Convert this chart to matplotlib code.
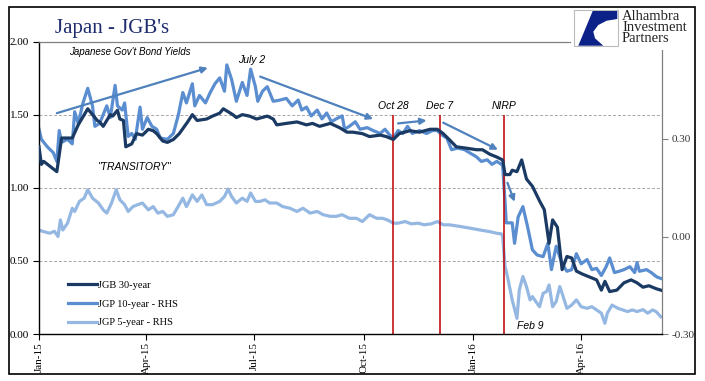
import matplotlib
matplotlib.use('Agg')
import matplotlib.pyplot as plt
import matplotlib.transforms as mtransforms
from matplotlib.patches import Rectangle, Polygon
import pandas as pd

plt.rcParams['font.family'] = ['Liberation Serif', 'DejaVu Serif']

# ---------------- data ----------------
dates_30y = ['2015-01-01','2015-01-03','2015-01-05','2015-01-16','2015-01-20','2015-01-29','2015-02-03','2015-02-11',
             '2015-02-19','2015-02-21','2015-02-24','2015-03-02','2015-03-04','2015-03-08','2015-03-10','2015-03-13',
             '2015-03-15','2015-03-20','2015-03-24','2015-03-29','2015-04-03','2015-04-07','2015-04-10','2015-04-15',
             '2015-04-19','2015-04-24','2015-04-29','2015-05-06','2015-05-10','2015-05-14','2015-05-22','2015-05-27',
             '2015-06-02','2015-06-05','2015-06-13','2015-06-16','2015-06-21','2015-06-27','2015-07-03','2015-07-12',
             '2015-07-17','2015-07-20','2015-07-28','2015-08-06','2015-08-14','2015-08-19','2015-08-25','2015-09-03',
             '2015-09-11','2015-09-17','2015-09-22','2015-09-30','2015-10-06','2015-10-15','2015-10-20','2015-10-26',
             '2015-10-31','2015-11-09','2015-11-17','2015-11-26','2015-12-02','2015-12-07','2015-12-12','2015-12-18',
             '2015-12-27','2016-01-04','2016-01-09','2016-01-15','2016-01-21','2016-01-26','2016-01-28','2016-02-01',
             '2016-02-03','2016-02-07','2016-02-11','2016-02-15','2016-02-20','2016-02-26','2016-03-01','2016-03-05',
             '2016-03-08','2016-03-12','2016-03-16','2016-03-20','2016-03-24','2016-03-28','2016-04-02','2016-04-08',
             '2016-04-14','2016-04-18','2016-04-21','2016-04-25','2016-05-01','2016-05-07','2016-05-13','2016-05-18',
             '2016-05-23','2016-05-28','2016-06-03','2016-06-07']
jgb_30y = [1.28,1.16,1.18,1.11,1.34,1.34,1.43,1.54,1.46,1.45,1.42,1.50,1.49,1.53,1.47,1.46,
           1.28,1.30,1.37,1.36,1.40,1.39,1.37,1.32,1.31,1.33,1.37,1.45,1.50,1.46,1.47,1.49,
           1.51,1.54,1.50,1.48,1.50,1.49,1.47,1.49,1.47,1.43,1.44,1.45,1.43,1.44,1.42,1.44,
           1.41,1.38,1.38,1.37,1.35,1.36,1.35,1.33,1.37,1.39,1.38,1.40,1.40,1.37,1.33,1.28,
           1.27,1.26,1.26,1.23,1.21,1.19,1.09,1.09,1.12,1.11,1.19,1.06,1.01,0.91,0.85,0.62,
           0.78,0.73,0.44,0.53,0.52,0.43,0.41,0.39,0.37,0.30,0.36,0.29,0.30,0.35,0.37,0.35,
           0.32,0.33,0.31,0.30]

dates_10y = ['2015-01-01','2015-01-03','2015-01-08','2015-01-13','2015-01-16','2015-01-18','2015-01-20','2015-01-25',
             '2015-01-29','2015-01-31','2015-02-03','2015-02-07','2015-02-11','2015-02-15','2015-02-17','2015-02-21',
             '2015-02-27','2015-03-02','2015-03-06','2015-03-08','2015-03-12','2015-03-14','2015-03-17','2015-03-20',
             '2015-03-23','2015-03-27','2015-03-29','2015-04-02','2015-04-06','2015-04-10','2015-04-13','2015-04-19',
             '2015-04-24','2015-04-28','2015-05-02','2015-05-05','2015-05-10','2015-05-12','2015-05-16','2015-05-21',
             '2015-05-25','2015-05-29','2015-06-02','2015-06-06','2015-06-08','2015-06-12','2015-06-16','2015-06-21',
             '2015-06-25','2015-06-28','2015-07-02','2015-07-04','2015-07-08','2015-07-12','2015-07-17','2015-07-23',
             '2015-07-28','2015-08-02','2015-08-07','2015-08-10','2015-08-14','2015-08-18','2015-08-23','2015-08-27',
             '2015-08-31','2015-09-04','2015-09-08','2015-09-13','2015-09-15','2015-09-19','2015-09-24','2015-09-28',
             '2015-10-04','2015-10-09','2015-10-15','2015-10-19','2015-10-23','2015-10-26','2015-10-30','2015-11-03',
             '2015-11-07','2015-11-11','2015-11-17','2015-11-23','2015-11-28','2015-12-02','2015-12-06','2015-12-10',
             '2015-12-14','2015-12-19','2015-12-25','2015-12-29','2016-01-04','2016-01-08','2016-01-13','2016-01-17',
             '2016-01-21','2016-01-25','2016-01-26','2016-01-28','2016-01-29','2016-02-03','2016-02-05','2016-02-08',
             '2016-02-12','2016-02-16','2016-02-20','2016-02-24','2016-02-29','2016-03-04','2016-03-07','2016-03-11',
             '2016-03-16','2016-03-20','2016-03-24','2016-03-28','2016-04-01','2016-04-06','2016-04-10','2016-04-14',
             '2016-04-18','2016-04-22','2016-04-25','2016-04-29','2016-05-03','2016-05-07','2016-05-12','2016-05-16',
             '2016-05-18','2016-05-20','2016-05-26','2016-05-30','2016-06-02','2016-06-04','2016-06-07']
jgb_10y = [0.330,0.299,0.276,0.258,0.231,0.326,0.290,0.299,0.285,0.384,0.348,0.411,0.456,0.402,0.339,0.348,
           0.402,0.366,0.465,0.402,0.389,0.411,0.308,0.317,0.299,0.398,0.330,0.366,0.339,0.330,0.303,0.299,
           0.317,0.371,0.443,0.411,0.470,0.402,0.434,0.411,0.443,0.470,0.488,0.447,0.528,0.483,0.416,0.474,
           0.434,0.515,0.461,0.416,0.447,0.461,0.416,0.420,0.425,0.402,0.420,0.389,0.398,0.371,0.389,0.362,
           0.380,0.353,0.362,0.371,0.330,0.339,0.353,0.330,0.335,0.326,0.317,0.330,0.312,0.303,0.326,0.317,
           0.339,0.317,0.326,0.317,0.326,0.326,0.312,0.303,0.267,0.272,0.267,0.258,0.245,0.231,0.236,0.222,
           0.231,0.222,0.218,0.105,0.042,0.042,-0.021,0.060,0.092,0.029,-0.041,-0.057,-0.062,-0.021,-0.102,-0.030,
           -0.084,-0.107,-0.102,-0.053,-0.084,-0.071,-0.102,-0.098,-0.120,-0.093,-0.066,-0.111,-0.107,-0.102,-0.093,-0.111,
           -0.080,-0.107,-0.102,-0.111,-0.120,-0.125,-0.129]

dates_5y = ['2015-01-01','2015-01-04','2015-01-10','2015-01-14','2015-01-17','2015-01-19','2015-01-21','2015-01-25',
            '2015-01-29','2015-01-31','2015-02-04','2015-02-08','2015-02-11','2015-02-15','2015-02-20','2015-02-24',
            '2015-02-27','2015-03-03','2015-03-07','2015-03-10','2015-03-14','2015-03-17','2015-03-21','2015-03-25',
            '2015-03-29','2015-04-03','2015-04-07','2015-04-11','2015-04-15','2015-04-19','2015-04-24','2015-04-28',
            '2015-05-02','2015-05-05','2015-05-10','2015-05-14','2015-05-18','2015-05-22','2015-05-27','2015-06-02',
            '2015-06-06','2015-06-09','2015-06-12','2015-06-16','2015-06-21','2015-06-25','2015-06-28','2015-07-02',
            '2015-07-06','2015-07-10','2015-07-14','2015-07-20','2015-07-25','2015-07-31','2015-08-06','2015-08-11',
            '2015-08-17','2015-08-23','2015-08-28','2015-09-03','2015-09-08','2015-09-13','2015-09-19','2015-09-25',
            '2015-09-30','2015-10-06','2015-10-12','2015-10-17','2015-10-21','2015-10-26','2015-10-30','2015-11-05',
            '2015-11-10','2015-11-16','2015-11-21','2015-11-27','2015-12-02','2015-12-07','2015-12-12','2015-12-21',
            '2015-12-29','2016-01-07','2016-01-15','2016-01-21','2016-01-25','2016-01-26','2016-01-28','2016-01-30',
            '2016-02-03','2016-02-07','2016-02-09','2016-02-12','2016-02-15','2016-02-18','2016-02-20','2016-02-24',
            '2016-02-26','2016-02-29','2016-03-03','2016-03-05','2016-03-08','2016-03-11','2016-03-14','2016-03-16',
            '2016-03-20','2016-03-24','2016-03-28','2016-04-01','2016-04-06','2016-04-10','2016-04-14','2016-04-18',
            '2016-04-21','2016-04-23','2016-04-27','2016-05-02','2016-05-06','2016-05-10','2016-05-14','2016-05-18',
            '2016-05-23','2016-05-27','2016-05-31','2016-06-03','2016-06-07']
jgb_5y = [0.020,0.016,0.010,0.016,0.000,0.051,0.020,0.041,0.087,0.077,0.108,0.118,0.144,0.118,0.103,0.082,
          0.072,0.103,0.144,0.113,0.098,0.077,0.092,0.098,0.103,0.082,0.092,0.072,0.077,0.062,0.067,0.092,
          0.118,0.092,0.128,0.108,0.128,0.098,0.098,0.108,0.123,0.146,0.123,0.103,0.118,0.108,0.134,0.108,
          0.108,0.113,0.103,0.103,0.092,0.087,0.077,0.087,0.072,0.077,0.067,0.062,0.062,0.067,0.056,0.056,
          0.046,0.067,0.056,0.056,0.051,0.041,0.041,0.046,0.039,0.041,0.036,0.039,0.046,0.036,0.036,0.031,
          0.026,0.020,0.015,0.010,0.008,0.000,-0.093,-0.123,-0.195,-0.252,-0.164,-0.123,-0.154,-0.195,-0.185,-0.206,
          -0.216,-0.175,-0.169,-0.149,-0.216,-0.200,-0.154,-0.175,-0.221,-0.211,-0.195,-0.216,-0.221,-0.216,-0.226,-0.236,
          -0.267,-0.236,-0.211,-0.221,-0.226,-0.231,-0.226,-0.231,-0.225,-0.236,-0.226,-0.231,-0.247]

series_labels = ['JGB 30-year', 'JGP 10-year - RHS', 'JGP 5-year - RHS']
left_ticks = [0.0, 0.5, 1.0, 1.5, 2.0]
right_ticks = [-0.30, 0.00, 0.30]
grid_levels = [0.5, 1.0, 1.5]
x_tick_dates = ['2015-01-01', '2015-04-01', '2015-07-01', '2015-10-01', '2016-01-01', '2016-04-01']
x_tick_labels = ['Jan-15', 'Apr-15', 'Jul-15', 'Oct-15', 'Jan-16', 'Apr-16']
event_dates = ['2015-10-26', '2015-12-04', '2016-01-27']
event_labels = ['Oct 28', 'Dec 7', 'NIRP']
# trend arrows (start date, start level, end date, end level) on left axis scale
trend_arrows = [('2015-01-16', 1.51, '2015-05-23', 1.82),
                ('2015-07-06', 1.76, '2015-10-09', 1.47),
                ('2015-10-30', 1.44, '2015-11-23', 1.46),
                ('2015-12-07', 1.445, '2016-01-22', 1.26),
                ('2016-01-30', 1.034, '2016-02-05', 0.904)]

assert len(dates_30y) == len(jgb_30y)
assert len(dates_10y) == len(jgb_10y)
assert len(dates_5y) == len(jgb_5y)

C30, C10, C5 = '#1B3A63', '#5A8ED0', '#95B8E3'
ARROW_C = '#4F81BD'
W, H = 705, 381

fig = plt.figure(figsize=(W / 100, H / 100), dpi=100)
ax = fig.add_axes([39 / W, 1 - 334 / H, 623 / W, 292.5 / H])
ax2 = ax.twinx()
ax.set_zorder(ax2.get_zorder() + 1)
ax.patch.set_visible(False)

sans = ['Liberation Sans', 'DejaVu Sans']

# gridlines (behind everything)
blend = mtransforms.blended_transform_factory(ax2.transAxes, ax.transData)
for g in grid_levels:
    ax2.plot([0, 1], [g, g], transform=blend, color='#A6A6A6', lw=0.7, ls=(0, (3, 2)), zorder=0)

l10, = ax2.plot(pd.to_datetime(dates_10y), jgb_10y, color=C10, lw=2.3, solid_joinstyle='round', zorder=3)
l5, = ax2.plot(pd.to_datetime(dates_5y), jgb_5y, color=C5, lw=2.3, solid_joinstyle='round', zorder=2)
ax.vlines(pd.to_datetime(event_dates), 0, 1.5, color='#C00000', lw=1.1, zorder=1.5)
l30, = ax.plot(pd.to_datetime(dates_30y), jgb_30y, color=C30, lw=2.3, solid_joinstyle='round', zorder=3)

xmin, xmax = pd.Timestamp('2015-01-01'), pd.Timestamp('2016-06-08')
ax.set_xlim(xmin, xmax)
ax.set_ylim(0, 2.0)
ax2.set_ylim(-0.30, 0.60)

ax.set_yticks(left_ticks)
ax.set_yticklabels([f'{v:.2f}' for v in left_ticks])
ax2.set_yticks(right_ticks)
ax2.set_yticklabels([f'{v:.2f}' for v in right_ticks])
ax.set_xticks(pd.to_datetime(x_tick_dates))
ax.set_xticklabels(x_tick_labels, rotation=90)

ax.tick_params(axis='x', direction='out', length=4, width=0.8, labelsize=8, pad=2)
ax.tick_params(axis='y', direction='out', length=4, width=0.8, labelsize=8, pad=3)
ax2.tick_params(axis='y', direction='out', length=4, width=0.8, labelsize=8, pad=3,
                color='#808080', labelcolor='#333333')

for s in ['left', 'bottom']:
    ax.spines[s].set_color('black')
    ax.spines[s].set_linewidth(1.0)
ax.spines['top'].set_color('#808080')
ax.spines['top'].set_linewidth(0.9)
ax.spines['right'].set_visible(False)
for s in ['left', 'bottom', 'top']:
    ax2.spines[s].set_visible(False)
ax2.spines['right'].set_color('#808080')
ax2.spines['right'].set_linewidth(0.9)

# event labels
for d, lab in zip(event_dates, event_labels):
    ax.text(pd.Timestamp(d), 1.56, lab, ha='center', va='center', family=sans,
            style='italic', fontsize=7.5)

# trend arrows
for d0, v0, d1, v1 in trend_arrows:
    ax.annotate('', xy=(pd.Timestamp(d1), v1), xytext=(pd.Timestamp(d0), v0),
                arrowprops=dict(arrowstyle='-|>', color=ARROW_C, lw=1.6, mutation_scale=9,
                                shrinkA=0, shrinkB=0), zorder=4)

leg = ax.legend([l30, l10, l5], series_labels, loc='center left', bbox_to_anchor=(0.0466, 0.1026),
                frameon=False, fontsize=7.5, handlelength=2.8, handletextpad=0.1,
                labelspacing=0.9, borderpad=0, borderaxespad=0)

# overlay in pixel space
ov = fig.add_axes([0, 0, 1, 1], zorder=10)
ov.set_xlim(0, W)
ov.set_ylim(H, 0)
ov.axis('off')
ov.patch.set_alpha(0)

ov.text(55, 32.5, "Japan - JGB's", fontsize=15, color='#1F2D6E', va='baseline', ha='left')
ov.text(69, 52, "Japanese Gov't Bond Yields", family=sans, style='italic', fontsize=7, va='center', ha='left')
ov.text(252, 60, 'July 2', family=sans, style='italic', fontsize=7.5, va='center', ha='center')
ov.text(134, 167, '"TRANSITORY"', family=sans, style='italic', fontsize=7.5, va='center', ha='center')
ov.text(530, 326, 'Feb 9', family=sans, style='italic', fontsize=7.5, va='center', ha='center')

# logo
ov.add_patch(Rectangle((571, 8), 123, 41.5, fc='white', ec='none', zorder=1))
ov.add_patch(Rectangle((574, 10), 43.5, 36, fc='white', ec='#BBBBBB', lw=0.8, zorder=2))
ov.add_patch(Polygon([(592.7, 11), (617.3, 11), (617.3, 19), (606.7, 20.7), (598.3, 25), (593.3, 31.7),
                      (595, 38.3), (603.3, 45.7), (578.3, 45.7)], closed=True, fc='#0D2288', ec='none', zorder=3))
ov.text(622, 9.5, 'Alhambra\nInvestment\nPartners', fontsize=10.5, color='#222222', va='top', ha='left',
        linespacing=0.82, zorder=4)

# outer frame
ov.add_patch(Rectangle((9, 7), 686, 367, fill=False, ec='black', lw=1.2, zorder=5))

fig.savefig('out.png', dpi=100)
